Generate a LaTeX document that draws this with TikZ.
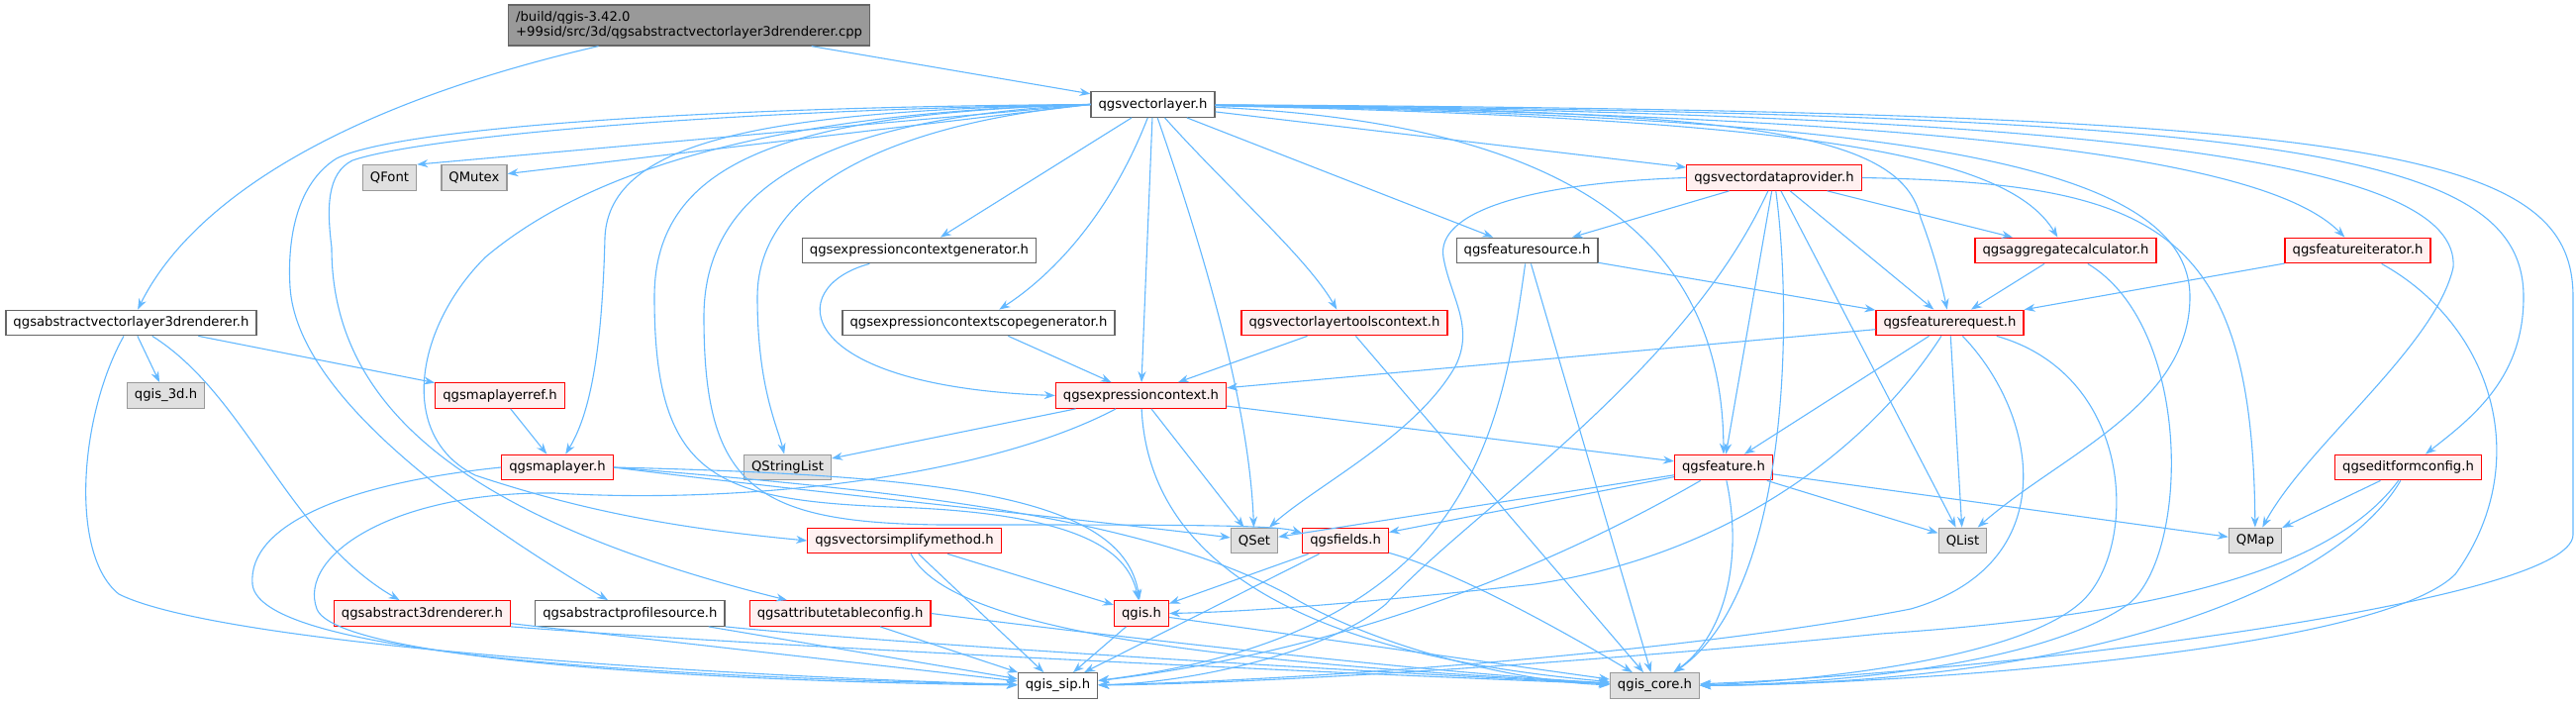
\documentclass[tikz,border=0pt]{standalone}
\usepackage{fontspec}
\setmainfont{DejaVu Sans}
\usetikzlibrary{positioning, arrows.meta}
\definecolor{edgeblue}{HTML}{63B8FF}
\definecolor{redborder}{HTML}{FF0000}
\definecolor{redfill}{HTML}{FFF0F0}
\definecolor{grayborder}{HTML}{999999}
\definecolor{grayfill}{HTML}{E0E0E0}
\definecolor{darkborder}{HTML}{666666}
\definecolor{srcfill}{HTML}{999999}
\tikzstyle{file} = [rectangle, minimum height=25.5pt, inner xsep=7.5pt, inner ysep=0pt, line width=1.3pt, text centered, font=\fontsize{13.2}{15.5}\selectfont]
\tikzstyle{hfile} = [file, draw=darkborder, fill=white]
\tikzstyle{redfile} = [file, draw=redborder, fill=redfill]
\tikzstyle{sysfile} = [file, draw=grayborder, fill=grayfill]
\tikzstyle{srcfile} = [file, draw=darkborder, fill=srcfill, align=left, minimum height=41pt]
\tikzstyle{inc} = [draw=edgeblue, line width=1.1pt, -{Stealth[length=11pt, width=8pt]}]

\begin{document}
\begin{tikzpicture}[x=1pt, y=-1pt]
		\useasboundingbox (0,0) rectangle (2602,711);
		% files
		\node (root)[srcfile, anchor=west] at (513,25.5) {/build/qgis-3.42.0\\+99sid/src/3d/qgsabstractvectorlayer3drenderer.cpp};
		\node (vlayer)[hfile] at (1164.5,105.5) {qgsvectorlayer.h};
		\node (qfont)[sysfile] at (393.5,179.5) {QFont};
		\node (qmutex)[sysfile, right = 24pt of qfont] {QMutex};
		\node (vdprov)[redfile] at (1792,179.5) {qgsvectordataprovider.h};
		\node (ecgen)[hfile] at (928.5,253) {qgsexpressioncontextgenerator.h};
		\node (fsource)[hfile] at (1542.5,253) {qgsfeaturesource.h};
		\node (aggcalc)[redfile] at (2086.5,253) {qgsaggregatecalculator.h};
		\node (fiter)[redfile] at (2381.5,253) {qgsfeatureiterator.h};
		\node (avlrend)[hfile] at (132.5,326) {qgsabstractvectorlayer3drenderer.h};
		\node (ecsgen)[hfile] at (988.5,326) {qgsexpressioncontextscopegenerator.h};
		\node (vltools)[redfile] at (1358,326) {qgsvectorlayertoolscontext.h};
		\node (freq)[redfile] at (1969.5,326) {qgsfeaturerequest.h};
		\node (qgisthreed)[sysfile] at (167.5,399.5) {qgis\_3d.h};
		\node (mlref)[redfile] at (505,399.5) {qgsmaplayerref.h};
		\node (ectx)[redfile] at (1152.5,399.5) {qgsexpressioncontext.h};
		\node (maplayer)[redfile] at (563,472) {qgsmaplayer.h};
		\node (qstrlist)[sysfile] at (795.5,472) {QStringList};
		\node (feature)[redfile] at (1741,472) {qgsfeature.h};
		\node (editform)[redfile] at (2432.5,472) {qgseditformconfig.h};
		\node (vsimplify)[redfile] at (913.5,546) {qgsvectorsimplifymethod.h};
		\node (qset)[sysfile] at (1267,546) {QSet};
		\node (fields)[redfile, right = 24pt of qset] {qgsfields.h};
		\node (qlist)[sysfile] at (1982.5,546) {QList};
		\node (qmap)[sysfile] at (2278,546) {QMap};
		\node (athreed)[redfile] at (426.5,619.5) {qgsabstract3drenderer.h};
		\node (aprofile)[hfile, right = 24pt of athreed] {qgsabstractprofilesource.h};
		\node (attrtable)[redfile, right = 24pt of aprofile] {qgsattributetableconfig.h};
		\node (qgish)[redfile] at (1153,619.5) {qgis.h};
		\node (qgissip)[hfile] at (1068.5,692.5) {qgis\_sip.h};
		\node (qgiscore)[sysfile] at (1671.5,692.5) {qgis\_core.h};

		% straight includes
		\foreach \a/\b in {root/vlayer, avlrend/qgisthreed, avlrend/mlref, mlref/maplayer, vlayer/ecgen, vlayer/ectx, vlayer/fsource, vlayer/vdprov, ecsgen/ectx, vltools/ectx, vltools/qgiscore, ectx/qstrlist, ectx/qset, ectx/feature, fsource/freq, fsource/qgiscore, vdprov/fsource, vdprov/aggcalc, vdprov/freq, vdprov/feature, vdprov/qlist, aggcalc/freq, fiter/freq, freq/ectx, freq/feature, freq/qlist, feature/fields, feature/qset, feature/qlist, feature/qmap, editform/qmap, fields/qgish, fields/qgissip, vsimplify/qgish, vsimplify/qgissip, athreed/qgissip, aprofile/qgissip, attrtable/qgissip, qgish/qgissip, qgish/qgiscore}
			\draw [inc] (\a) -- (\b);
		\draw [inc] (vlayer.west) -- (qfont.north east);
		\draw [inc] (vlayer.west) -- (qmutex);

		% source file and 3d renderer
		\draw [inc] (root) .. controls (330,110) and (190,210) .. (avlrend);
		\draw [inc] (avlrend) .. controls (250,400) and (290,540) .. (athreed);
		\draw [inc] (avlrend) .. controls (80,420) and (70,560) .. (120,600) .. controls (220,650) and (700,682) .. (qgissip);

		% vector layer, left side
		\draw [inc] (vlayer.west) .. controls (700,108) and (400,130) .. (340,160) .. controls (300,185) and (290,240) .. (293,290) .. controls (300,400) and (470,520) .. (aprofile);
		\draw [inc] (vlayer.west) .. controls (700,112) and (420,140) .. (356,162) .. controls (330,175) and (330,210) .. (335,250) .. controls (335,400) and (450,520) .. (attrtable);
		\draw [inc] (vlayer.west) .. controls (850,112) and (620,150) .. (490,260) .. controls (420,330) and (400,440) .. (480,480) .. controls (600,520) and (700,535) .. (vsimplify.west);
		\draw [inc] (vlayer.west) .. controls (780,112) and (615,140) .. (611,240) .. controls (608,360) and (595,420) .. (maplayer);
		\draw [inc] (vlayer.west) .. controls (800,115) and (661,160) .. (661,300) .. controls (661,480) and (720,505) .. (900,512) .. controls (1100,518) and (1140,560) .. (qgish);
		\draw [inc] (vlayer.west) .. controls (850,118) and (711,180) .. (711,320) .. controls (711,490) and (760,528) .. (950,530) .. controls (1200,530) and (1290,530) .. ([yshift=-6pt]fields.north west);
		\draw [inc] (vlayer.west) .. controls (900,125) and (765,190) .. (765,300) .. controls (765,390) and (785,430) .. (qstrlist);
		\draw [inc] (vlayer) .. controls (1120,220) and (1060,280) .. (ecsgen);
		\draw [inc] (vlayer) .. controls (1225,280) and (1262,420) .. (qset);
		\draw [inc] (vlayer) .. controls (1240,190) and (1320,260) .. (vltools);

		% vector layer, right side
		\draw [inc] (vlayer) .. controls (1600,125) and (1740,250) .. (feature);
		\draw [inc] (vlayer) .. controls (1750,112) and (1920,130) .. (1940,220) .. controls (1955,260) and (1962,290) .. (freq);
		\draw [inc] (vlayer) .. controls (1850,120) and (2030,160) .. (aggcalc);
		\draw [inc] (vlayer) .. controls (1900,118) and (2212,160) .. (2212,300) .. controls (2212,410) and (2080,460) .. (qlist);
		\draw [inc] (vlayer) .. controls (2050,118) and (2300,170) .. (fiter);
		\draw [inc] (vlayer) .. controls (2150,115) and (2485,165) .. (2478,270) .. controls (2460,350) and (2330,450) .. (qmap);
		\draw [inc] (vlayer) .. controls (2300,115) and (2549,150) .. (2549,300) .. controls (2549,380) and (2500,420) .. (editform);
		\draw [inc] (vlayer) .. controls (2400,112) and (2599,150) .. (2599,300) -- (2599,540) .. controls (2599,610) and (2000,680) .. (qgiscore);

		% map layer
		\draw [inc] (maplayer.west) .. controls (350,488) and (250,530) .. (255,590) .. controls (262,665) and (700,684) .. (qgissip);
		\draw [inc] (maplayer.east) .. controls (800,495) and (1100,525) .. (qset);
		\draw [inc] (maplayer.east) .. controls (950,480) and (1135,500) .. (qgish);
		\draw [inc] (maplayer.east) .. controls (900,495) and (1150,520) .. (1300,600) .. controls (1400,660) and (1550,690) .. (qgiscore);

		% expression context
		\draw [inc] (ecgen) .. controls (790,290) and (800,390) .. (ectx.west);
		\draw [inc] (ectx) .. controls (1160,560) and (1300,660) .. (qgiscore);
		\draw [inc] (ectx) .. controls (1000,480) and (760,510) .. (560,498) .. controls (400,496) and (300,560) .. (320,615) .. controls (340,665) and (700,688) .. (qgissip);

		% providers and requests
		\draw [inc] (fsource) .. controls (1515,450) and (1480,640) .. (qgissip);
		\draw [inc] (vdprov.east) .. controls (2180,185) and (2275,230) .. (qmap);
		\draw [inc] (vdprov.west) .. controls (1540,185) and (1450,215) .. (1458,260) .. controls (1465,300) and (1490,330) .. (1470,370) .. controls (1430,440) and (1330,490) .. (qset);
		\draw [inc] (vdprov) .. controls (1812,330) and (1805,600) .. (qgiscore);
		\draw [inc] (vdprov) .. controls (1700,380) and (1480,520) .. (1400,610) .. controls (1340,660) and (1200,690) .. (qgissip);
		\draw [inc] (aggcalc) .. controls (2215,330) and (2212,560) .. (2150,610) .. controls (2050,680) and (1800,692) .. (qgiscore);
		\draw [inc] (fiter) .. controls (2520,330) and (2560,470) .. (2480,580) .. controls (2400,660) and (1900,692) .. (qgiscore);
		\draw [inc] (freq) .. controls (1890,450) and (1750,560) .. (1550,590) .. controls (1350,612) and (1250,618) .. (qgish.east);
		\draw [inc] (freq) .. controls (2160,380) and (2160,560) .. (2100,610) .. controls (2030,670) and (1800,690) .. (qgiscore);
		\draw [inc] (freq) .. controls (2060,420) and (2085,570) .. (1930,615) .. controls (1700,660) and (1300,688) .. (qgissip);

		% features, config and the rest
		\draw [inc] (feature) .. controls (1760,560) and (1745,640) .. (qgiscore);
		\draw [inc] (feature) .. controls (1640,530) and (1420,650) .. (qgissip);
		\draw [inc] (editform) .. controls (2360,570) and (2200,620) .. (1900,640) .. controls (1650,665) and (1300,690) .. (qgissip);
		\draw [inc] (editform) .. controls (2370,580) and (2150,690) .. (qgiscore);
		\draw [inc] (fields) .. controls (1480,580) and (1600,650) .. (qgiscore);
		\draw [inc] (vsimplify) .. controls (960,640) and (1250,670) .. (qgiscore);
		\draw [inc] (athreed.south east) .. controls (800,655) and (1400,682) .. (qgiscore);
		\draw [inc] (aprofile.south east) .. controls (900,650) and (1400,680) .. (qgiscore);
		\draw [inc] (attrtable.east) .. controls (1100,640) and (1450,680) .. (qgiscore);
	\end{tikzpicture}
\end{document}
